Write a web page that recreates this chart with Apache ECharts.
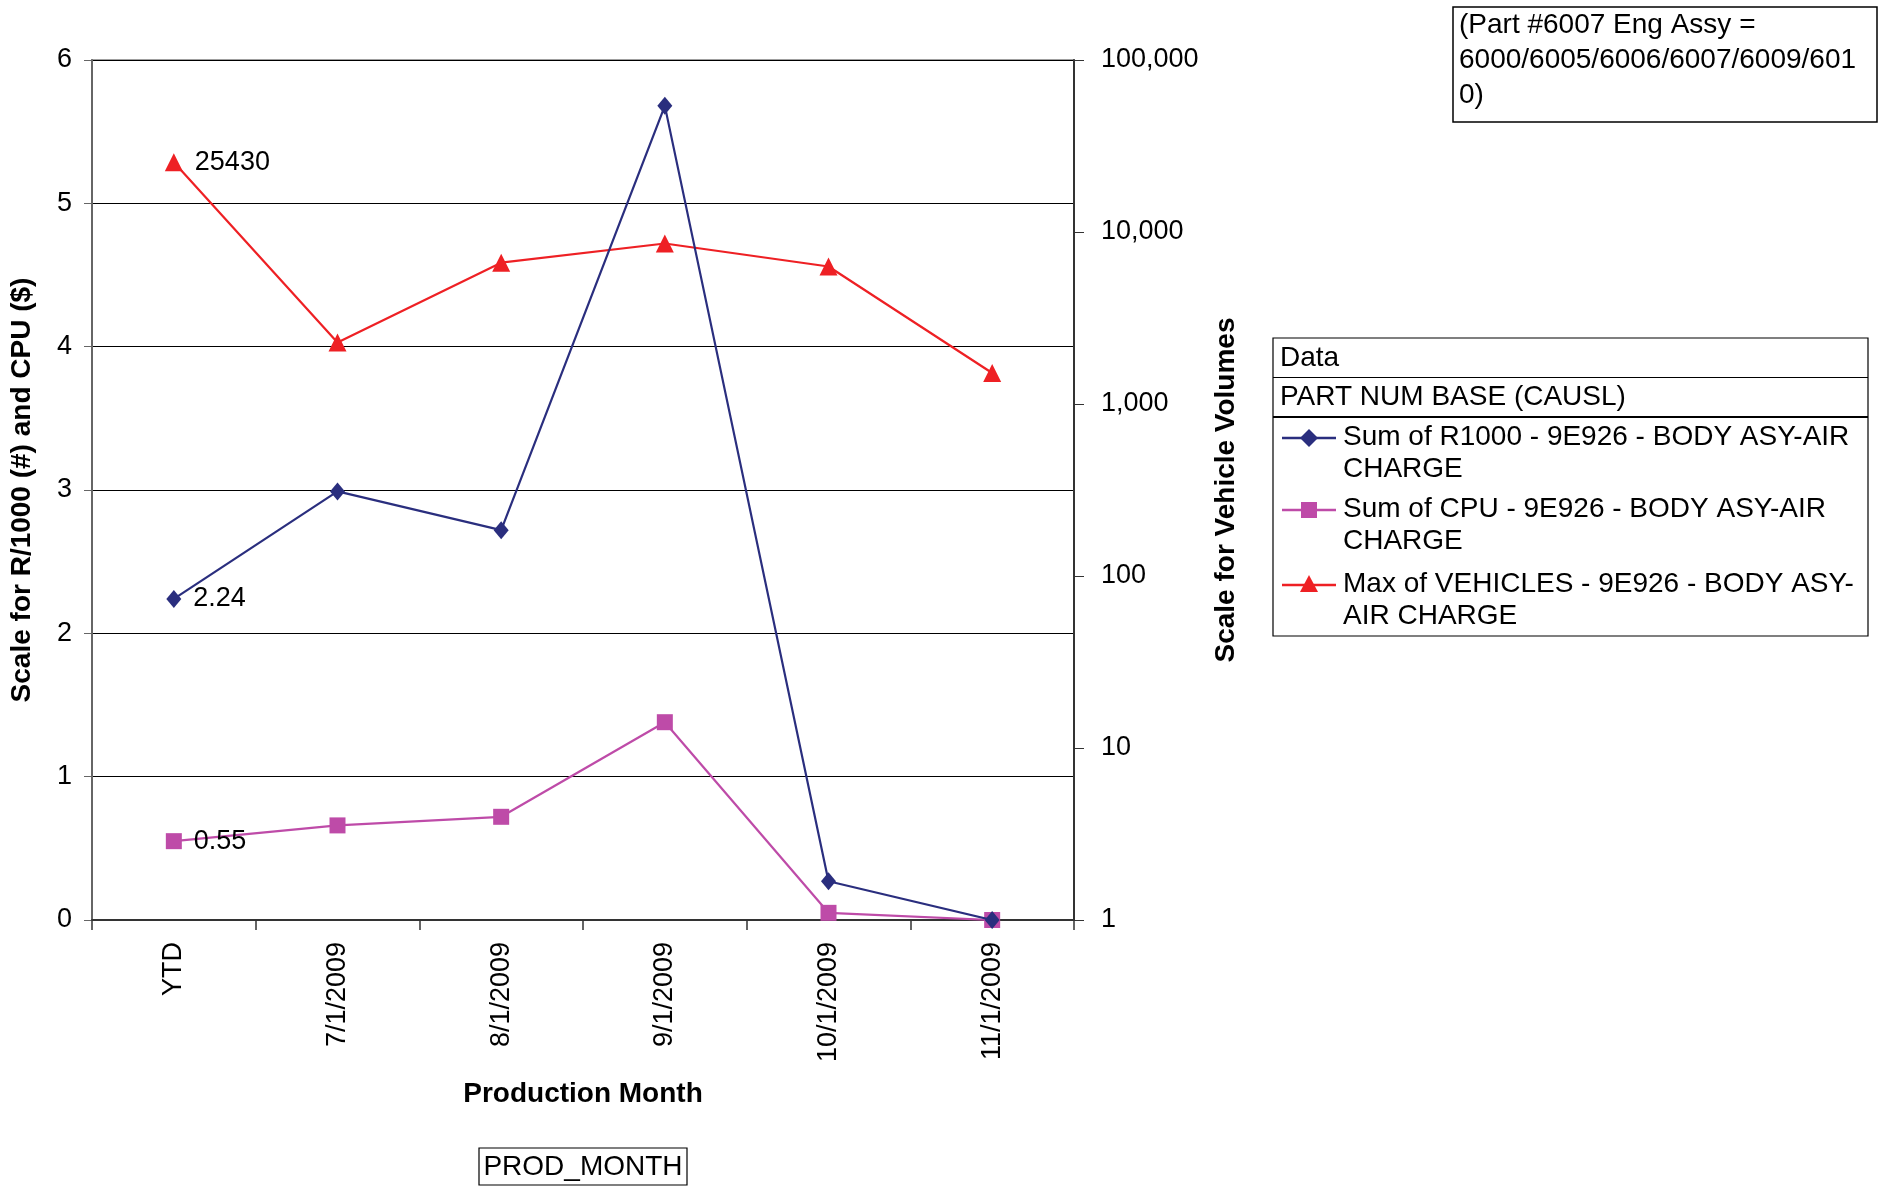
<!DOCTYPE html>
<html><head><meta charset="utf-8">
<script src="https://cdn.jsdelivr.net/npm/echarts@6/dist/echarts.min.js"></script>
<style>html,body{margin:0;padding:0;background:#fff}#c{width:1881px;height:1193px}</style>
</head><body><div id="c"></div>
<script>
const categories = ['YTD','7/1/2009','8/1/2009','9/1/2009','10/1/2009','11/1/2009'];
const r1000 = [2.24, 2.99, 2.72, 5.68, 0.27, 0];
const cpu = [0.55, 0.66, 0.72, 1.38, 0.05, 0];
const vehicles = [25430, 2280, 6630, 8570, 6300, 1514];
const seriesNames = [
  'Sum of R1000 - 9E926 - BODY ASY-AIR\nCHARGE',
  'Sum of CPU - 9E926 - BODY ASY-AIR\nCHARGE',
  'Max of VEHICLES - 9E926 - BODY ASY-\nAIR CHARGE'
];
const NAVY = '#2A2E7E', PINK = '#BE4BA8', RED = '#EE2024';
const FF = 'Liberation Sans, Arial, Helvetica, sans-serif';

const chart = echarts.init(document.getElementById('c'), null, {renderer:'canvas'});

function lbl(){
  return {show: true, position:'right', distance:12, fontSize:27, fontFamily:FF, color:'#000',
    formatter: p => p.dataIndex === 0 ? String(p.value) : ''};
}

const legendY = [438, 510, 585];
const colors = [NAVY, PINK, RED];
const graphics = [];
graphics.push({type:'rect', shape:{x:1453, y:7, width:424, height:115}, style:{fill:'#fff', stroke:'#000', lineWidth:1.5}});
graphics.push({type:'text', x:1459, y:8, style:{text:'(Part #6007 Eng Assy =\n6000/6005/6006/6007/6009/601\n0)', font:'28px '+FF, fill:'#000', lineHeight:35}});
graphics.push({type:'rect', shape:{x:1273, y:338, width:595, height:298}, style:{fill:'#fff', stroke:'#000', lineWidth:1.2}});
graphics.push({type:'line', shape:{x1:1273, y1:377.5, x2:1868, y2:377.5}, style:{stroke:'#000', lineWidth:1.2}});
graphics.push({type:'line', shape:{x1:1273, y1:417, x2:1868, y2:417}, style:{stroke:'#000', lineWidth:2}});
graphics.push({type:'text', x:1280, y:358, style:{text:'Data', font:'28px '+FF, fill:'#000', verticalAlign:'middle'}});
graphics.push({type:'text', x:1280, y:397, style:{text:'PART NUM BASE (CAUSL)', font:'28px '+FF, fill:'#000', verticalAlign:'middle'}});
for (let i=0;i<3;i++){
  const y = legendY[i];
  graphics.push({type:'line', shape:{x1:1282, y1:y, x2:1336, y2:y}, style:{stroke:colors[i], lineWidth:2.5}});
  let sym;
  if (i===0) sym = {type:'polygon', shape:{points:[[1309,y-9],[1318,y],[1309,y+9],[1300,y]]}, style:{fill:NAVY}};
  else if (i===1) sym = {type:'rect', shape:{x:1301, y:y-8, width:16, height:16}, style:{fill:PINK}};
  else sym = {type:'polygon', shape:{points:[[1309,y-10],[1318,y+7],[1300,y+7]]}, style:{fill:RED}};
  graphics.push(sym);
  graphics.push({type:'text', x:1343, y:y-16, style:{text:seriesNames[i], font:'28px '+FF, fill:'#000', lineHeight:31.5}});
}
graphics.push({type:'rect', shape:{x:479, y:1148, width:208, height:37}, style:{fill:'#fff', stroke:'#000', lineWidth:1.2}});
graphics.push({type:'text', x:583, y:1167, style:{text:'PROD_MONTH', font:'28px '+FF, fill:'#000', align:'center', verticalAlign:'middle'}});

chart.setOption({
  animation:false,
  backgroundColor:'#fff',
  grid:{left:91, right:807, top:60, bottom:273, show:true, borderColor:'#808080', borderWidth:1.5},
  xAxis:{
    type:'category', data:categories, boundaryGap:true,
    name:'Production Month', nameLocation:'middle', nameGap:160,
    nameTextStyle:{fontSize:28, fontWeight:'bold', fontFamily:FF, color:'#000'},
    axisLine:{lineStyle:{color:'#333', width:2}},
    axisTick:{show:true, length:10, lineStyle:{color:'#333', width:1.5}},
    axisLabel:{rotate:90, margin:22, fontSize:27, fontFamily:FF, color:'#000'}
  },
  yAxis:[
    {type:'value', min:0, max:6, interval:1, position:'left',
     name:'Scale for R/1000 (#) and CPU ($)', nameLocation:'middle', nameRotate:90, nameGap:56,
     nameTextStyle:{fontSize:28, fontWeight:'bold', fontFamily:FF, color:'#000'},
     axisLine:{show:true, lineStyle:{color:'#666', width:2}},
     axisTick:{show:true, length:8, lineStyle:{color:'#666'}},
     axisLabel:{margin:20, fontSize:27, fontFamily:FF, color:'#000'},
     splitLine:{show:true, lineStyle:{color:'#000', width:1}}},
    {type:'log', logBase:10, min:1, max:100000, position:'right',
     name:'Scale for Vehicle Volumes', nameLocation:'middle', nameRotate:90, nameGap:138,
     nameTextStyle:{fontSize:28, fontWeight:'bold', fontFamily:FF, color:'#000'},
     axisLine:{show:true, lineStyle:{color:'#333', width:2}},
     axisTick:{show:true, length:10, lineStyle:{color:'#333'}},
     axisLabel:{margin:27, fontSize:27, fontFamily:FF, color:'#000',
       formatter: v => Number(v).toLocaleString('en-US')},
     splitLine:{show:false}, minorTick:{show:false}}
  ],
  series:[
    {name:seriesNames[0], type:'line', yAxisIndex:0, data:r1000, symbol:'diamond', symbolSize:[15,18],
     itemStyle:{color:NAVY}, lineStyle:{color:NAVY, width:2.2}, label:lbl(), z:3},
    {name:seriesNames[1], type:'line', yAxisIndex:0, data:cpu, symbol:'rect', symbolSize:16,
     itemStyle:{color:PINK}, lineStyle:{color:PINK, width:2.2}, label:lbl(), z:2},
    {name:seriesNames[2], type:'line', yAxisIndex:1, data:vehicles, symbol:'triangle', symbolSize:18,
     itemStyle:{color:RED}, lineStyle:{color:RED, width:2.2}, label:lbl(), z:2}
  ],
  graphic: graphics
});
</script></body></html>
